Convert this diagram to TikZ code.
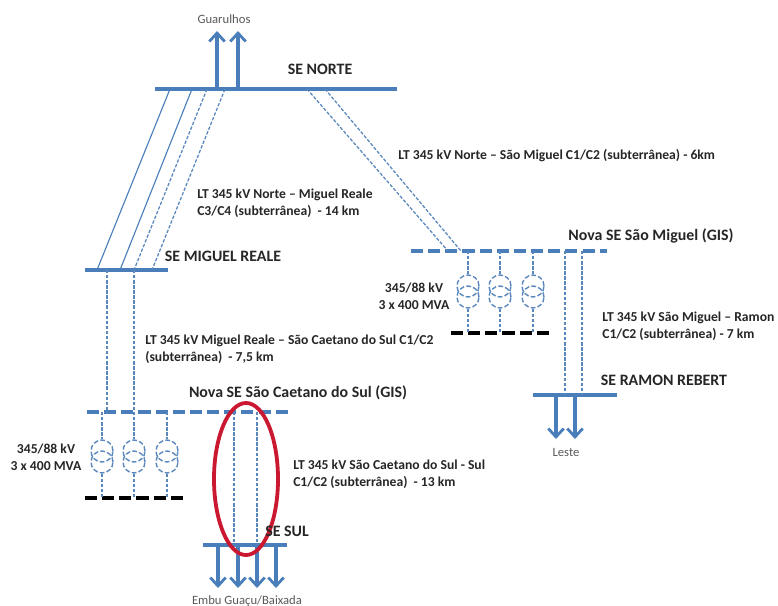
\documentclass[tikz,border=0pt]{standalone}
\usepackage{fontspec}
\setmainfont{Carlito}
\usetikzlibrary{arrows.meta,shapes.geometric}
\definecolor{azulbarra}{HTML}{4A7EBB}
\definecolor{azulfino}{HTML}{5B88BC}
\definecolor{vermelho}{HTML}{C9182F}
\definecolor{textoesc}{HTML}{262626}
\tikzset{
  barra/.style={azulbarra,line width=2.5pt},
  barrad/.style={azulbarra,line width=2.5pt,dash pattern=on 8.6pt off 3.6pt},
  barran/.style={black,line width=2.5pt,dash pattern=on 8.6pt off 3.6pt},
  aerea/.style={azulbarra,line width=0.8pt},
  subt/.style={azulfino,line width=0.9pt,dash pattern=on 2.4pt off 1.2pt},
  seta/.style={azulbarra,line width=2.2pt,-{Straight Barb[length=6pt,width=11pt,line width=2pt]}},
  trafo/.style={circle,draw=azulfino,line width=1pt,dash pattern=on 3.4pt off 1.6pt,minimum size=0.55cm,inner sep=0pt},
  rotulo/.style={font=\bfseries\fontsize{9.7}{12}\selectfont,text=textoesc,align=left,inner sep=0pt},
  nomese/.style={font=\bfseries\fontsize{11.3}{13}\selectfont,text=textoesc,inner sep=0pt},
  destino/.style={font=\fontsize{9}{11}\selectfont,text=black!65,inner sep=0pt}
}
\begin{document}
\begin{tikzpicture}[x=0.025cm,y=-0.025cm]
\useasboundingbox (0,0) rectangle (778,606);
\coordinate (norteE) at (155,89);
\coordinate (norteD) at (397,89);
\coordinate (miguelE) at (85,270);
\coordinate (miguelD) at (168,270);
\coordinate (saomigE) at (411,251);
\coordinate (saomigD) at (607,251);
\coordinate (caetanoE) at (87,412);
\coordinate (caetanoD) at (288,412);
\coordinate (ramonE) at (533,395);
\coordinate (ramonD) at (617,395);
\coordinate (sulE) at (203,545);
\coordinate (sulD) at (287,545);
\coordinate (pretaE1) at (451,333);
\coordinate (pretaD1) at (550,333);
\coordinate (pretaE2) at (85,498);
\coordinate (pretaD2) at (183,498);
\draw[barra] (norteE) -- (norteD);
\draw[barra] (miguelE) -- (miguelD);
\draw[barra] (ramonE) -- (ramonD);
\draw[barra] (sulE) -- (sulD);
\draw[barrad] (saomigE) -- (saomigD);
\draw[barrad] (caetanoE) -- (caetanoD);
\draw[barran] (pretaE1) -- (pretaD1);
\draw[barran] (pretaE2) -- (pretaD2);
\foreach \i/\xa/\xb in {1/170/97,2/192/120,3/207/134,4/225/152} {
  \coordinate (nm\i) at (\xa,89);
  \coordinate (mn\i) at (\xb,270);
}
\draw[aerea] (nm1) -- (mn1);
\draw[aerea] (nm2) -- (mn2);
\draw[subt] (nm3) -- (mn3);
\draw[subt] (nm4) -- (mn4);
\coordinate (ns1) at (307,89);
\coordinate (ns2) at (325,89);
\coordinate (sn1) at (448,251);
\coordinate (sn2) at (461,251);
\draw[subt] (ns1) -- (sn1);
\draw[subt] (ns2) -- (sn2);
\foreach \i/\x in {1/107,2/134} {
  \coordinate (mc\i) at (\x,270);
  \coordinate (cm\i) at (\x,412);
  \draw[subt] (mc\i) -- (cm\i);
}
\foreach \i/\x in {1/234,2/257} {
  \coordinate (cs\i) at (\x,412);
  \coordinate (sc\i) at (\x,545);
  \draw[subt] (cs\i) -- (sc\i);
}
\foreach \i/\x in {1/565,2/582} {
  \coordinate (sr\i) at (\x,251);
  \coordinate (rs\i) at (\x,395);
  \draw[subt] (sr\i) -- (rs\i);
}
\foreach \i/\x in {1/468,2/500,3/533} {
  \node[trafo] (tsa\i) at (\x,286) {};
  \node[trafo] (tsb\i) at (\x,297) {};
  \draw[subt] (tsa\i.north |- saomigE) -- (tsa\i.north);
  \draw[subt] (tsb\i.south) -- (tsb\i.south |- pretaE1);
}
\foreach \i/\x in {1/102,2/134,3/167} {
  \node[trafo] (tca\i) at (\x,451) {};
  \node[trafo] (tcb\i) at (\x,462) {};
  \draw[subt] (tca\i.north |- caetanoE) -- (tca\i.north);
  \draw[subt] (tcb\i.south) -- (tcb\i.south |- pretaE2);
}
\foreach \i/\x in {1/217,2/238} {
  \coordinate (gb\i) at (\x,89);
  \coordinate (gt\i) at (\x,31);
  \draw[seta] (gb\i) -- (gt\i);
}
\foreach \i/\x in {1/556,2/575} {
  \coordinate (lb\i) at (\x,395);
  \coordinate (lt\i) at (\x,439);
  \draw[seta] (lb\i) -- (lt\i);
}
\foreach \i/\x in {1/218,2/238,3/257,4/276} {
  \coordinate (eb\i) at (\x,545);
  \coordinate (et\i) at (\x,588);
  \draw[seta] (eb\i) -- (et\i);
}
\node[ellipse,draw=vermelho,line width=2.7pt,minimum width=1.6cm,minimum height=3.8cm,inner sep=0pt] (oval) at (246,479) {};
\node[destino] (guarulhos) at (224,19) {Guarulhos};
\node[destino] (leste) at (566,452) {Leste};
\node[destino] (embu) at (247,601) {Embu Guaçu/Baixada};
\node[nomese] (senorte) at (320,69) {SE NORTE};
\node[nomese] (semiguel) at (223,256) {SE MIGUEL REALE};
\node[nomese] (sesaomig) at (651,236) {Nova SE São Miguel (GIS)};
\node[nomese] (secaetano) at (298,393) {Nova SE São Caetano do Sul (GIS)};
\node[nomese] (seramon) at (664,380) {SE RAMON REBERT};
\node[nomese] (sesul) at (287,531) {SE SUL};
\node[rotulo,anchor=west] (ltnorteA) at (197,203) {LT 345 kV Norte – Miguel Reale\\C3/C4 (subterrânea)\ \ - 14 km};
\node[rotulo,anchor=west] (ltnorteB) at (398,156) {LT 345 kV Norte – São Miguel C1/C2 (subterrânea) - 6km};
\node[rotulo,anchor=west] (ltmiguel) at (145,349) {LT 345 kV Miguel Reale – São Caetano do Sul C1/C2\\(subterrânea)\ \ - 7,5 km};
\node[rotulo,anchor=west] (ltramon) at (602,326) {LT 345 kV São Miguel – Ramon\\C1/C2 (subterrânea) - 7 km};
\node[rotulo,anchor=west] (ltsul) at (293,474) {LT 345 kV São Caetano do Sul - Sul\\C1/C2 (subterrânea)\ \ - 13 km};
\node[rotulo,align=center] (trafoS) at (414,296) {345/88 kV\\3 x 400 MVA};
\node[rotulo,align=center] (trafoC) at (46,457) {345/88 kV\\3 x 400 MVA};
\end{tikzpicture}
\end{document}
